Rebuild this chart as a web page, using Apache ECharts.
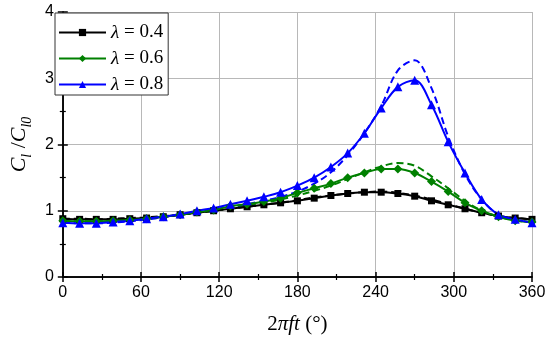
<!DOCTYPE html>
<html>
<head>
<meta charset="utf-8">
<script src="https://cdn.jsdelivr.net/npm/echarts@6/dist/echarts.min.js"></script>
<style>html,body{margin:0;padding:0;background:#fff}#c{width:550px;height:342px}</style>
</head>
<body>
<div id="c"></div>
<script>
// phase angle 2*pi*f*t (deg)
const phase = [0, 12.9, 25.7, 38.6, 51.4, 64.3, 77.1, 90, 102.9, 115.7, 128.6, 141.4, 154.3, 167.1, 180,
  192.9, 205.7, 218.6, 231.4, 244.3, 257.1, 270, 282.9, 295.7, 308.6, 321.4, 334.3, 347.1, 360];
const xTicks = [0, 60, 120, 180, 240, 300, 360];
const yTicks = [0, 1, 2, 3, 4];
const legendNames = ['λ = 0.4', 'λ = 0.6', 'λ = 0.8'];
// solid lines with markers
const lam04 = [0.88, 0.87, 0.87, 0.87, 0.88, 0.89, 0.91, 0.94, 0.97, 1.00, 1.03, 1.06, 1.09, 1.12, 1.15,
  1.19, 1.23, 1.26, 1.28, 1.28, 1.26, 1.22, 1.15, 1.09, 1.03, 0.97, 0.92, 0.89, 0.87];
const lam06 = [0.85, 0.84, 0.84, 0.85, 0.86, 0.88, 0.91, 0.94, 0.98, 1.01, 1.07, 1.10, 1.14, 1.19, 1.27,
  1.34, 1.41, 1.50, 1.57, 1.63, 1.63, 1.57, 1.44, 1.29, 1.12, 1.00, 0.91, 0.85, 0.83];
const lam08 = [0.82, 0.81, 0.81, 0.83, 0.85, 0.88, 0.91, 0.95, 1.00, 1.04, 1.10, 1.15, 1.21, 1.28, 1.38,
  1.50, 1.66, 1.87, 2.17, 2.55, 2.87, 2.97, 2.60, 2.04, 1.57, 1.17, 0.94, 0.87, 0.82];
// dashed lines
const lam04d = [0.88, 0.88, 0.87, 0.88, 0.89, 0.90, 0.92, 0.94, 0.97, 1.00, 1.03, 1.06, 1.09, 1.12, 1.16,
  1.20, 1.23, 1.26, 1.28, 1.29, 1.27, 1.23, 1.17, 1.10, 1.03, 0.97, 0.92, 0.89, 0.87];
const lam06d = [0.85, 0.84, 0.84, 0.85, 0.86, 0.88, 0.91, 0.94, 0.97, 1.00, 1.04, 1.08, 1.12, 1.17, 1.23,
  1.30, 1.38, 1.48, 1.58, 1.67, 1.72, 1.68, 1.52, 1.34, 1.15, 1.00, 0.91, 0.86, 0.83];
const lam08d = [0.82, 0.81, 0.81, 0.82, 0.84, 0.87, 0.90, 0.94, 0.98, 1.02, 1.06, 1.10, 1.15, 1.21, 1.29,
  1.41, 1.58, 1.84, 2.17, 2.58, 3.12, 3.27, 2.85, 2.12, 1.55, 1.17, 0.94, 0.86, 0.82];

const pairs = arr => phase.map((x, i) => [x, arr[i]]);
const colors = ['#000000', '#008000', '#0000ff'];
const symbols = ['rect', 'diamond', 'triangle'];
const symSizes = [7, 9, 9];
const solid = [lam04, lam06, lam08];
const dashed = [lam04d, lam06d, lam08d];

const series = [];
dashed.forEach((d, i) => series.push({
  type: 'line', data: pairs(d), smooth: 0.35, showSymbol: false, silent: true,
  lineStyle: { color: colors[i], width: 2, type: [7, 4] }, z: 2
}));
solid.forEach((d, i) => series.push({
  name: legendNames[i], type: 'line', data: pairs(d), smooth: 0.35,
  symbol: symbols[i], symbolSize: symSizes[i], showSymbol: true,
  itemStyle: { color: colors[i] }, lineStyle: { color: colors[i], width: 2 }, z: 3
}));

const axisCommon = {
  axisLine: { show: true, lineStyle: { color: '#000', width: 1.5 } },
  axisTick: { show: true, inside: true, length: 5, lineStyle: { color: '#000', width: 1.5 } },
  minorTick: { show: true, splitNumber: 2, length: 3, lineStyle: { color: '#000', width: 1.2 } },
};

const chart = echarts.init(document.getElementById('c'), null, { renderer: 'canvas' });
chart.setOption({
  animation: false,
  backgroundColor: '#fff',
  grid: { left: 54, right: 18, top: 12, bottom: 65 },
  legend: {
    data: legendNames, orient: 'vertical', left: 55, top: 13,
    itemWidth: 47, itemHeight: 9, itemGap: 7,
    padding: [10, 5, 1, 3],
    backgroundColor: '#fff', borderColor: '#333', borderWidth: 1,
    formatter: n => '{i|λ}{t|' + n.slice(1) + '}',
    textStyle: {
      rich: {
        i: { fontFamily: 'Liberation Serif', fontStyle: 'italic', fontSize: 19, color: '#000' },
        t: { fontFamily: 'Liberation Serif', fontSize: 19, color: '#000' }
      }
    }
  },
  xAxis: [
    Object.assign({}, axisCommon, {
      type: 'value', min: xTicks[0], max: xTicks[xTicks.length - 1], interval: 60,
      axisLabel: { fontFamily: 'Liberation Sans', fontSize: 16, color: '#000', margin: 8 },
      splitLine: { show: true, lineStyle: { color: '#b8b8b8', width: 1 } },
      name: '{n|2}{i|πft}{n| (°)}', nameLocation: 'middle', nameGap: 37,
      nameTextStyle: { rich: {
        n: { fontFamily: 'Liberation Serif', fontSize: 21, color: '#000' },
        i: { fontFamily: 'Liberation Serif', fontStyle: 'italic', fontSize: 21, color: '#000' }
      } }
    }),
    Object.assign({}, axisCommon, {
      type: 'value', position: 'top', min: 0, max: 360, interval: 60,
      axisLabel: { show: false }, splitLine: { show: false }
    })
  ],
  yAxis: [
    Object.assign({}, axisCommon, {
      type: 'value', min: yTicks[0], max: yTicks[yTicks.length - 1], interval: 1,
      axisLabel: { fontFamily: 'Liberation Sans', fontSize: 16, color: '#000', margin: 9 },
      splitLine: { show: true, lineStyle: { color: '#b8b8b8', width: 1 } },
      name: '{i|C}{s|l}{n| /}{i|C}{s|l0}', nameLocation: 'middle', nameGap: 22,
      nameTextStyle: { rich: {
        i: { fontFamily: 'Liberation Serif', fontStyle: 'italic', fontSize: 22, color: '#000', lineHeight: 26, verticalAlign: 'bottom' },
        s: { fontFamily: 'Liberation Serif', fontStyle: 'italic', fontSize: 14, color: '#000', lineHeight: 26, verticalAlign: 'bottom', padding: [0, 0, -4, 0] },
        n: { fontFamily: 'Liberation Serif', fontSize: 22, color: '#000', lineHeight: 26, verticalAlign: 'bottom' }
      } }
    }),
    Object.assign({}, axisCommon, {
      type: 'value', position: 'right', min: 0, max: 4, interval: 1,
      axisLabel: { show: false }, splitLine: { show: false }
    })
  ],
  series: series
});
</script>
</body>
</html>
